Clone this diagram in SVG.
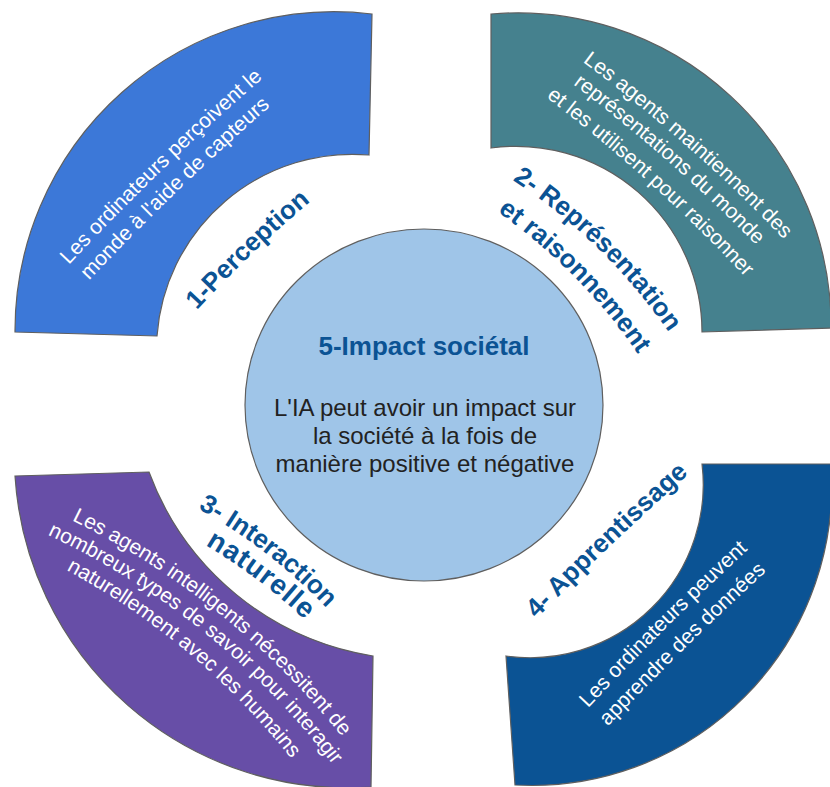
<svg xmlns="http://www.w3.org/2000/svg" width="830" height="787" viewBox="0 0 830 787">
<style>
.blk{stroke:#5f5f5f;stroke-width:1.2}
.lbl{font-family:"Liberation Sans",Arial,sans-serif;font-weight:bold;font-size:26px;fill:#0b5394;text-anchor:middle}
.dsc{font-family:"Liberation Sans",Arial,sans-serif;font-size:21px;fill:#ffffff;text-anchor:middle}
.body{font-family:"Liberation Sans",Arial,sans-serif;font-size:24px;fill:#222222;text-anchor:middle}
</style>
<defs>
<path id="a540" d="M-260,66.7 A540,540 0 0 1 260,66.7"/>
<path id="a570" d="M-260,62.8 A570,570 0 0 1 260,62.8"/>
<path id="a730" d="M-260,47.9 A730,730 0 0 1 260,47.9"/>
<path id="a760" d="M-260,45.9 A760,760 0 0 1 260,45.9"/>
<path id="a790" d="M-260,44 A790,790 0 0 1 260,44"/>
<path id="a1200" d="M-260,28.5 A1200,1200 0 0 1 260,28.5"/>
<path id="a1600" d="M-260,21.3 A1600,1600 0 0 1 260,21.3"/>
<path id="a2500" d="M-260,13.6 A2500,2500 0 0 1 260,13.6"/>
<path id="a3000" d="M-260,11.3 A3000,3000 0 0 1 260,11.3"/>
</defs>
<rect width="830" height="787" fill="#ffffff"/>

<g id="perception">
<path class="blk" fill="#3c78d8" d="M15,332 A319,319 0 0 1 372,14 L369,155 A196,196 0 0 0 157,336 Z"/>
<text class="dsc" transform="translate(163.3,168.9) rotate(-43.9)"><textPath href="#a2500" startOffset="50%">Les ordinateurs perçoivent le</textPath></text>
<text class="dsc" transform="translate(177.5,191) rotate(-43.9)"><textPath href="#a2500" startOffset="50%">monde à l'aide de capteurs</textPath></text>
<text class="lbl" transform="translate(251.8,254.1) rotate(-43.7)"><textPath href="#a1200" startOffset="50%">1-Perception</textPath></text>
</g>

<g id="representation">
<path class="blk" fill="#45818e" d="M491,14 A313,313 0 0 1 831,328 L702,332 A186,186 0 0 0 491,148 Z"/>
<text class="dsc" transform="translate(687,146.3) rotate(41.4)"><textPath href="#a1600" startOffset="50%">Les agents maintiennent des</textPath></text>
<text class="dsc" transform="translate(667.8,161.3) rotate(41.3)"><textPath href="#a1600" startOffset="50%">représentations du monde</textPath></text>
<text class="dsc" transform="translate(649.5,183) rotate(42.1)"><textPath href="#a1600" startOffset="50%">et les utilisent pour raisonner</textPath></text>
<text class="lbl" transform="translate(598.1,248.6) rotate(44.3)"><textPath href="#a570" startOffset="50%">2- Représentation</textPath></text>
<text class="lbl" transform="translate(574.1,276.7) rotate(45.4)"><textPath href="#a570" startOffset="50%">et raisonnement</textPath></text>
</g>

<g id="interaction">
<path class="blk" fill="#674ea7" d="M15,476 L149,472 A287,287 0 0 0 373,656 L371,787 A333,333 0 0 1 15,476 Z"/>
<text class="dsc" transform="translate(218.9,613.5) rotate(38.7)"><textPath href="#a790" startOffset="50%">Les agents intelligents nécessitent de</textPath></text>
<text class="dsc" transform="translate(204.4,632.5) rotate(38.9)"><textPath href="#a760" startOffset="50%">nombreux types de savoir pour interagir</textPath></text>
<text class="dsc" transform="translate(188.4,653) rotate(40)"><textPath href="#a730" startOffset="50%">naturellement avec les humains</textPath></text>
<text class="lbl" transform="translate(266.1,553.5) rotate(37.8)"><textPath href="#a540" startOffset="50%">3- Interaction</textPath></text>
<text class="lbl" transform="translate(257.5,580) rotate(37)" style="font-size:28px" letter-spacing="1"><textPath href="#a540" startOffset="50%">naturelle</textPath></text>
</g>

<g id="apprentissage">
<path class="blk" fill="#0b5394" d="M702,464 L831,464 A300,300 0 0 1 515,785 L506,656 A173,173 0 0 0 702,464 Z"/>
<text class="dsc" transform="translate(666.5,627.4) rotate(-44.7)"><textPath href="#a3000" startOffset="50%">Les ordinateurs peuvent</textPath></text>
<text class="dsc" transform="translate(685.7,647.4) rotate(-44.4)"><textPath href="#a3000" startOffset="50%">apprendre des données</textPath></text>
<text class="lbl" transform="translate(611.4,544.9) rotate(-43.6)"><textPath href="#a3000" startOffset="50%">4- Apprentissage</textPath></text>
</g>

<g id="impact">
<ellipse class="blk" fill="#9fc5e8" cx="424" cy="405" rx="179" ry="176"/>
<text class="lbl" x="424" y="355">5-Impact sociétal</text>
<text class="body" x="425" y="416">L'IA peut avoir un impact sur</text>
<text class="body" x="425" y="444">la société à la fois de</text>
<text class="body" x="425" y="472">manière positive et négative</text>
</g>
</svg>
